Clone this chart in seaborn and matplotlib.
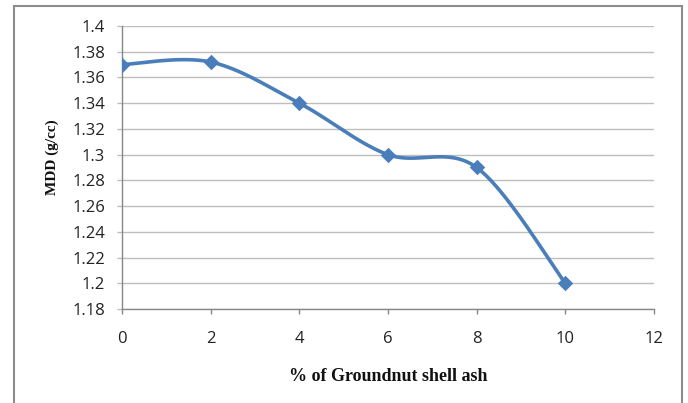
import numpy as np
import pandas as pd
import matplotlib
matplotlib.use("Agg")
import matplotlib.pyplot as plt
from matplotlib.patches import Rectangle
import seaborn as sns

# Groundnut shell ash content (%) vs maximum dry density (g/cc)
ash_pct = [0, 2, 4, 6, 8, 10]
mdd = [1.37, 1.372, 1.34, 1.30, 1.29, 1.20]
x_ticks = [0, 2, 4, 6, 8, 10, 12]
y_ticks = [1.18, 1.2, 1.22, 1.24, 1.26, 1.28, 1.3, 1.32, 1.34, 1.36, 1.38, 1.4]
y_tick_labels = ["1.18", "1.2", "1.22", "1.24", "1.26", "1.28", "1.3",
                 "1.32", "1.34", "1.36", "1.38", "1.4"]


def smooth_curve(xs, ys, n=40):
    """Spreadsheet-style smoothed line: cubic Bezier segments with
    Catmull-Rom control points."""
    xs = np.asarray(xs, float)
    ys = np.asarray(ys, float)
    px = np.concatenate([[xs[0]], xs, [xs[-1]]])
    py = np.concatenate([[ys[0]], ys, [ys[-1]]])
    out_x, out_y = [], []
    t = np.linspace(0, 1, n)
    for i in range(1, len(px) - 2):
        p0 = np.array([px[i], py[i]])
        p3 = np.array([px[i + 1], py[i + 1]])
        c1 = p0 + (np.array([px[i + 1], py[i + 1]]) - np.array([px[i - 1], py[i - 1]])) / 6
        c2 = p3 - (np.array([px[i + 2], py[i + 2]]) - np.array([px[i], py[i]])) / 6
        seg = ((1 - t)[:, None] ** 3 * p0 + 3 * ((1 - t) ** 2 * t)[:, None] * c1
               + 3 * ((1 - t) * t ** 2)[:, None] * c2 + (t ** 3)[:, None] * p3)
        if i > 1:
            seg = seg[1:]
        out_x.extend(seg[:, 0])
        out_y.extend(seg[:, 1])
    return np.array(out_x), np.array(out_y)


sns.set_theme(style="white")
plt.rcParams["font.family"] = ["Open Sans", "DejaVu Sans"]

line_color = "#4A7EBB"
grid_color = "#BEBEBE"
axis_color = "#878787"

fig = plt.figure(figsize=(6.88, 4.03), dpi=100)
ax = fig.add_axes([122 / 688, 1 - 309 / 403, (654 - 122) / 688, (309 - 26) / 403])

sx, sy = smooth_curve(ash_pct, mdd)
curve = pd.DataFrame({"x": sx, "y": sy})
points = pd.DataFrame({"x": ash_pct, "y": mdd})

sns.lineplot(data=curve, x="x", y="y", ax=ax, color=line_color, lw=2.6,
             sort=False, estimator=None)
sns.scatterplot(data=points, x="x", y="y", ax=ax, color=line_color,
                marker="D", s=62, edgecolor=line_color, linewidth=0, zorder=5)

ax.set_xlim(0, 12)
ax.set_ylim(1.18, 1.4)
ax.set_xticks(x_ticks)
ax.set_xticklabels([str(v) for v in x_ticks])
ax.set_yticks(y_ticks)
ax.set_yticklabels(y_tick_labels)

ax.yaxis.grid(True, color=grid_color, lw=1.0)
ax.xaxis.grid(False)
ax.set_axisbelow(True)

for side in ["top", "right"]:
    ax.spines[side].set_visible(False)
for side in ["left", "bottom"]:
    ax.spines[side].set_color(axis_color)
    ax.spines[side].set_linewidth(1.0)

ax.tick_params(axis="y", which="major", length=3.6, width=1.0, color=grid_color,
               pad=8.5, labelsize=12, labelcolor="#222222", left=True,
               direction="out")
ax.tick_params(axis="x", which="major", length=3.6, width=1.0, color=axis_color,
               pad=12.5, labelsize=12, labelcolor="#222222", bottom=True,
               direction="out")

ax.set_xlabel("% of Groundnut shell ash", family="Liberation Serif",
              fontweight="bold", fontsize=13, labelpad=15, color="#111111")
ax.set_ylabel("MDD (g/cc)", family="Liberation Serif", fontweight="bold",
              fontsize=11, color="#111111")
ax.yaxis.set_label_coords(-0.119, 0.537)

# Chart frame
fig.patches.append(Rectangle((13.5 / 688, -0.1), (682 - 13.5) / 688, 1.1 - 5.5 / 403,
                             transform=fig.transFigure, fill=False,
                             edgecolor="#8C8C8C", lw=1.5))

fig.savefig("out.png", dpi=100)
